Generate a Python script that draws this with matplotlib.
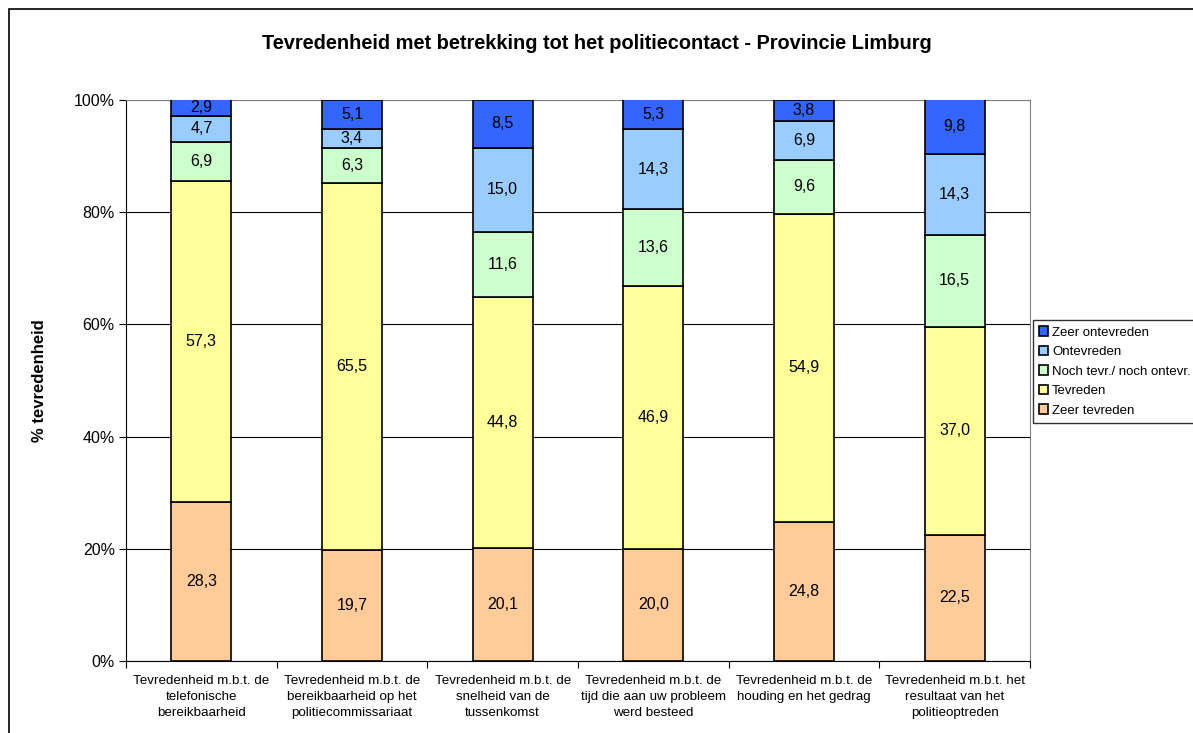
import matplotlib
matplotlib.use("Agg")
import matplotlib.pyplot as plt
import numpy as np
from matplotlib.patches import Rectangle
from matplotlib.ticker import FuncFormatter

plt.rcParams['font.family'] = ['Liberation Sans', 'DejaVu Sans']

categories = [
    "Tevredenheid m.b.t. de\ntelefonische\nbereikbaarheid",
    "Tevredenheid m.b.t. de\nbereikbaarheid op het\npolitiecommissariaat",
    "Tevredenheid m.b.t. de\nsnelheid van de\ntussenkomst",
    "Tevredenheid m.b.t. de\ntijd die aan uw probleem\nwerd besteed",
    "Tevredenheid m.b.t. de\nhouding en het gedrag",
    "Tevredenheid m.b.t. het\nresultaat van het\npolitieoptreden",
]
zeer_tevreden = [28.3, 19.7, 20.1, 20.0, 24.8, 22.5]
tevreden = [57.3, 65.5, 44.8, 46.9, 54.9, 37.0]
noch = [6.9, 6.3, 11.6, 13.6, 9.6, 16.5]
ontevreden = [4.7, 3.4, 15.0, 14.3, 6.9, 14.3]
zeer_ontevreden = [2.9, 5.1, 8.5, 5.3, 3.8, 9.8]

series = [
    ("Zeer tevreden", zeer_tevreden, "#FFCC99"),
    ("Tevreden", tevreden, "#FFFF99"),
    ("Noch tevr./ noch ontevr.", noch, "#CCFFCC"),
    ("Ontevreden", ontevreden, "#99CCFF"),
    ("Zeer ontevreden", zeer_ontevreden, "#3366FF"),
]

fig = plt.figure(figsize=(11.93, 7.33), dpi=100)
ax = fig.add_axes([0.1056, 0.0982, 0.7578, 0.7654])

x = np.arange(len(categories))
bottom = np.zeros(len(categories))
handles = []
for name, vals, col in series:
    vals = np.array(vals)
    b = ax.bar(x, vals, 0.4, bottom=bottom, color=col, edgecolor="black",
               linewidth=1.2, label=name, zorder=3)
    handles.append(b)
    for xi, v, b0 in zip(x, vals, bottom):
        ax.text(xi, b0 + v / 2, f"{v:.1f}".replace(".", ","), ha="center",
                va="center", fontsize=11.5, zorder=4)
    bottom += vals

ax.set_xlim(-0.5, len(categories) - 0.5)
ax.set_ylim(0, 100)
ax.set_yticks([0, 20, 40, 60, 80, 100])
ax.yaxis.set_major_formatter(FuncFormatter(lambda v, p: f"{int(v)}%"))
ax.yaxis.grid(True, color="black", linewidth=0.8, zorder=0)
ax.set_xticks(np.arange(len(categories) + 1) - 0.5, minor=False)
ax.set_xticklabels([])
ax.set_xticks(x, minor=True)
ax.set_xticklabels(categories, minor=True, fontsize=9.6, linespacing=1.45)
ax.tick_params(axis="x", which="minor", length=0, pad=10)
ax.tick_params(axis="x", which="major", length=5, color="black")
ax.tick_params(axis="y", length=5, labelsize=11.5, pad=3)

for s in ["top", "right"]:
    ax.spines[s].set_color("#808080")
ax.spines["left"].set_color("black")
ax.spines["bottom"].set_color("black")
ax.get_ygridlines()[-1].set_color("#808080")

ax.set_ylabel("% tevredenheid", fontsize=12, fontweight="bold", labelpad=19)
fig.text(0.5, 0.941, "Tevredenheid met betrekking tot het politiecontact - Provincie Limburg",
         ha="center", va="center", fontsize=14.4, fontweight="bold")

leg = ax.legend(handles=handles[::-1], loc="upper left",
                bbox_to_anchor=(1.003, 0.607), fontsize=9.5, frameon=True,
                fancybox=False, edgecolor="black", handlelength=0.7,
                handleheight=0.7, handletextpad=0.3, borderpad=0.45,
                labelspacing=0.55, borderaxespad=0)
leg.get_frame().set_linewidth(1.0)

fig.patches.append(Rectangle((9 / 1193, -0.05), 1.1, 1 - 9 / 733 + 0.05,
                             transform=fig.transFigure, fill=False,
                             edgecolor="black", linewidth=1.2))

fig.savefig("out.png", dpi=100)
